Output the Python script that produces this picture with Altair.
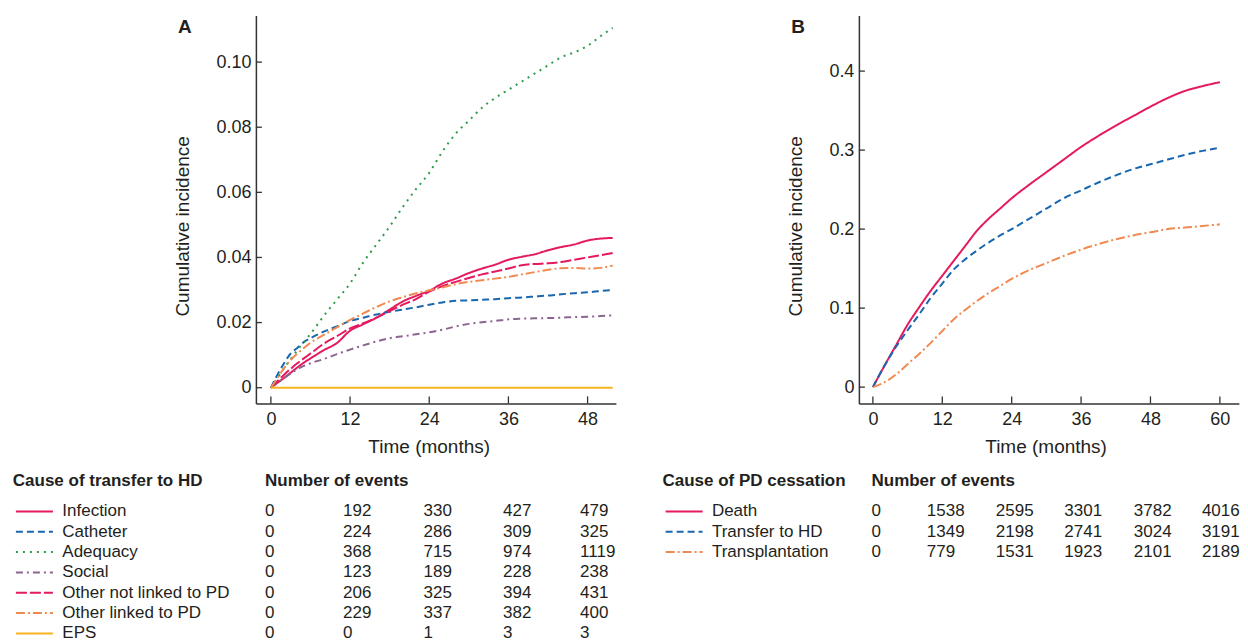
import altair as alt
import pandas as pd

FONT = "Liberation Sans"
TEXT = "#231f20"
AXIS = "#333333"

# ---------------- Panel A: cause of transfer to HD ----------------
A_SERIES = ["Infection", "Catheter", "Adequacy", "Social",
            "Other not linked to PD", "Other linked to PD", "EPS"]
A_COLORS = ["#E5195E", "#1867B0", "#2E9B4A", "#8C6490", "#E5195E", "#F08A50", "#F6B31F"]
A_DASHES = [[1, 0], [7, 4], [2, 5], [7, 4, 2, 4], [11, 3], [9, 3, 2, 3], [1, 0]]

A_MONTHS = [0, 1, 2, 3, 4, 5, 6, 8, 10, 12, 14, 16, 18, 20, 22, 24, 26, 28, 30,
            32, 34, 36, 38, 40, 42, 44, 46, 48, 50, 51.8]
A_INFECTION = [0, 0.0015, 0.003, 0.0046, 0.0062, 0.0077, 0.009, 0.0115, 0.0137, 0.0175,
               0.0195, 0.0215, 0.024, 0.0265, 0.0282, 0.0298, 0.032, 0.0335, 0.0352,
               0.0366, 0.0378, 0.0393, 0.0402, 0.041, 0.0422, 0.0432, 0.044, 0.0452, 0.0458, 0.046]
A_CATHETER = [0, 0.004, 0.0075, 0.0105, 0.0122, 0.014, 0.0152, 0.0172, 0.0188, 0.0205,
              0.0215, 0.0225, 0.0233, 0.024, 0.0247, 0.0255, 0.0262, 0.0267, 0.0268,
              0.027, 0.0272, 0.0275, 0.0277, 0.028, 0.0283, 0.0287, 0.029, 0.0293, 0.0297, 0.030]
A_ADEQUACY = [0, 0.003, 0.006, 0.0088, 0.0115, 0.014, 0.0165, 0.022, 0.027, 0.032,
              0.0385, 0.044, 0.0495, 0.0555, 0.061, 0.066, 0.0725, 0.078, 0.082,
              0.086, 0.089, 0.0915, 0.094, 0.0965, 0.099, 0.1015, 0.103, 0.105, 0.108, 0.1105]
A_SOCIAL = [0, 0.0015, 0.003, 0.0044, 0.0057, 0.0067, 0.0075, 0.0088, 0.0103, 0.0117,
            0.013, 0.0142, 0.0152, 0.0158, 0.0164, 0.017, 0.0178, 0.0188, 0.0196,
            0.0201, 0.0205, 0.021, 0.0212, 0.0213, 0.0214, 0.0215, 0.0217, 0.0218, 0.022, 0.0222]
A_OTHER_NOT = [0, 0.002, 0.004, 0.0058, 0.0075, 0.009, 0.0105, 0.0135, 0.0158, 0.0182,
               0.0198, 0.0215, 0.0235, 0.0255, 0.0272, 0.0295, 0.0312, 0.0325, 0.0337,
               0.0348, 0.0357, 0.0366, 0.0376, 0.038, 0.0382, 0.0386, 0.0393, 0.04, 0.0407, 0.0414]
A_OTHER_LINKED = [0, 0.003, 0.006, 0.0085, 0.0105, 0.0122, 0.0138, 0.0162, 0.0185, 0.0208,
                  0.0228, 0.0248, 0.0265, 0.0278, 0.029, 0.0299, 0.0308, 0.0318, 0.0325,
                  0.033, 0.0335, 0.034, 0.0348, 0.0355, 0.0362, 0.0367, 0.0368, 0.0366, 0.0368, 0.0375]
A_EPS = [0, 0, 0, 0, 0, 0, 0, 0, 0, 0,
         0, 0, 0, 0, 0, 0, 0, 0, 0,
         0, 0, 0, 0, 0, 0, 0, 0, 0, 0, 0]

A_N_INFECTION = [0, 192, 330, 427, 479]
A_N_CATHETER = [0, 224, 286, 309, 325]
A_N_ADEQUACY = [0, 368, 715, 974, 1119]
A_N_SOCIAL = [0, 123, 189, 228, 238]
A_N_OTHER_NOT = [0, 206, 325, 394, 431]
A_N_OTHER_LINKED = [0, 229, 337, 382, 400]
A_N_EPS = [0, 0, 1, 3, 3]

A_XTICKS = [0, 12, 24, 36, 48]
A_YTICKS = [0, 0.02, 0.04, 0.06, 0.08, 0.10]

# ---------------- Panel B: cause of PD cessation ----------------
B_SERIES = ["Death", "Transfer to HD", "Transplantation"]
B_COLORS = ["#E5195E", "#1867B0", "#F08A50"]
B_DASHES = [[1, 0], [7, 4], [9, 3, 2, 3]]

B_MONTHS = [0, 2, 4, 6, 8, 10, 12, 14, 16, 18, 20, 22, 24, 27, 30, 33, 36, 39, 42, 45,
            48, 51, 54, 57, 60]
B_DEATH = [0, 0.027, 0.053, 0.079, 0.101, 0.122, 0.141, 0.160, 0.179, 0.198, 0.213, 0.226,
           0.239, 0.256, 0.272, 0.288, 0.304, 0.318, 0.331, 0.343, 0.355, 0.366, 0.375, 0.381, 0.386]
B_TRANSFER = [0, 0.027, 0.051, 0.072, 0.092, 0.113, 0.131, 0.149, 0.162, 0.173, 0.183, 0.192,
              0.200, 0.213, 0.226, 0.239, 0.249, 0.259, 0.268, 0.276, 0.282, 0.288, 0.294, 0.299, 0.303]
B_TRANSPLANT = [0, 0.006, 0.016, 0.029, 0.042, 0.056, 0.071, 0.086, 0.098, 0.109, 0.119, 0.128,
                0.137, 0.148, 0.157, 0.166, 0.174, 0.181, 0.187, 0.192, 0.196, 0.200, 0.202, 0.204, 0.206]

B_N_DEATH = [0, 1538, 2595, 3301, 3782, 4016]
B_N_TRANSFER = [0, 1349, 2198, 2741, 3024, 3191]
B_N_TRANSPLANT = [0, 779, 1531, 1923, 2101, 2189]

B_XTICKS = [0, 12, 24, 36, 48, 60]
B_YTICKS = [0, 0.1, 0.2, 0.3, 0.4]


def long_df(months, series, values):
    rows = []
    for s, vals in zip(series, values):
        for m, v in zip(months, vals):
            rows.append({"month": m, "value": v, "series": s})
    return pd.DataFrame(rows)


def panel(df, series, colors, dashes, counts, header, letter, W, H,
          xdom, ydom, xticks, yticks, yfmt, xtitle_x, ytitle_x, letter_x, slot_px):
    def xs():
        return alt.Scale(domain=xdom, nice=False, zero=False)

    def ys():
        return alt.Scale(domain=ydom, nice=False, zero=False)

    def tx():
        return alt.Scale(type="linear", domain=list(range(len(slot_px))), range=slot_px,
                         nice=False, zero=False)

    def ty():
        return alt.Scale(type="linear", domain=[0, 1, 7], range=[466, 496, 618],
                         nice=False, zero=False)

    col = alt.Scale(domain=series, range=colors)
    dash = alt.Scale(domain=series, range=dashes)

    x_axis = alt.Axis(values=xticks, title="Time (months)", ticks=False, tickSize=0,
                      labelPadding=7, labelFontSize=18, titleFontSize=19, labelFlush=False,
                      titleX=xtitle_x, titleY=34, titleBaseline="top", titleAlign="center",
                      grid=False, domainColor=AXIS, domainWidth=1.5, labelColor=TEXT,
                      titleColor=TEXT, titleFontWeight="normal", labelFont=FONT, titleFont=FONT)
    y_axis = alt.Axis(values=yticks, labelExpr=yfmt, title="Cumulative incidence",
                      ticks=False, tickSize=0, labelPadding=5, labelFontSize=18,
                      titleFontSize=19, titleX=ytitle_x, titleY=210.5, titleAngle=270,
                      titleBaseline="middle", titleAlign="center", grid=False,
                      domainColor=AXIS, domainWidth=1.5, labelColor=TEXT, titleColor=TEXT,
                      titleFontWeight="normal", labelFont=FONT, titleFont=FONT)

    lines = alt.Chart(df).mark_line(strokeWidth=2, interpolate="monotone").encode(
        x=alt.X("month:Q", scale=xs(), axis=x_axis),
        y=alt.Y("value:Q", scale=ys(), axis=y_axis),
        color=alt.Color("series:N", scale=col, legend=None),
        strokeDash=alt.StrokeDash("series:N", scale=dash, legend=None),
    )
    xt = alt.Chart(pd.DataFrame({"t": xticks})).mark_rule(color=AXIS, strokeWidth=1.3).encode(
        x=alt.X("t:Q", scale=xs(), axis=None), y=alt.value(H), y2=alt.value(H - 7))
    yt = alt.Chart(pd.DataFrame({"t": yticks})).mark_rule(color=AXIS, strokeWidth=1.3).encode(
        y=alt.Y("t:Q", scale=ys(), axis=None), x=alt.value(0), x2=alt.value(6))
    lab = alt.Chart(pd.DataFrame({"t": [letter]})).mark_text(
        align="left", baseline="top", font=FONT, fontSize=19, fontWeight="bold", color=TEXT
    ).encode(text="t:N", x=alt.value(letter_x), y=alt.value(2.6))

    # ---- table below the panel ----
    head = pd.DataFrame([{"slot": 0, "row": 0, "txt": header},
                         {"slot": 4, "row": 0, "txt": "Number of events"}])
    body_rows = []
    for i, s in enumerate(series):
        body_rows.append({"slot": 3, "row": i + 1, "txt": s})
        for j, c in enumerate(counts[i]):
            body_rows.append({"slot": 4 + j, "row": i + 1, "txt": str(c)})
    body = pd.DataFrame(body_rows)
    keys = pd.DataFrame([{"series": s, "row": i + 1, "a": 1, "b": 2} for i, s in enumerate(series)])

    t_head = alt.Chart(head).mark_text(align="left", baseline="middle", font=FONT, fontSize=17,
                                       fontWeight="bold", color=TEXT).encode(
        x=alt.X("slot:Q", scale=tx(), axis=None), y=alt.Y("row:Q", scale=ty(), axis=None),
        text="txt:N")
    t_body = alt.Chart(body).mark_text(align="left", baseline="middle", font=FONT, fontSize=17,
                                       color=TEXT).encode(
        x=alt.X("slot:Q", scale=tx(), axis=None), y=alt.Y("row:Q", scale=ty(), axis=None),
        text="txt:N")
    t_keys = alt.Chart(keys).mark_rule(strokeWidth=2).encode(
        x=alt.X("a:Q", scale=tx(), axis=None), x2="b:Q",
        y=alt.Y("row:Q", scale=ty(), axis=None),
        color=alt.Color("series:N", scale=col, legend=None),
        strokeDash=alt.StrokeDash("series:N", scale=dash, legend=None))

    return alt.layer(lines, xt, yt, lab, t_keys, t_head, t_body).resolve_scale(
        x="independent", y="independent").properties(width=W, height=H)


dfA = long_df(A_MONTHS, A_SERIES, [A_INFECTION, A_CATHETER, A_ADEQUACY, A_SOCIAL,
                                   A_OTHER_NOT, A_OTHER_LINKED, A_EPS])
dfB = long_df(B_MONTHS, B_SERIES, [B_DEATH, B_TRANSFER, B_TRANSPLANT])

chartA = panel(dfA, A_SERIES, A_COLORS, A_DASHES,
               [A_N_INFECTION, A_N_CATHETER, A_N_ADEQUACY, A_N_SOCIAL, A_N_OTHER_NOT,
                A_N_OTHER_LINKED, A_N_EPS],
               "Cause of transfer to HD", "A", 360, 388,
               [-2.27, 52.29], [-0.00482, 0.11434], A_XTICKS, A_YTICKS,
               "datum.value == 0 ? '0' : format(datum.value, '.2f')",
               172.8, -73, -78,
               [-243.1, -240.0, -203.0, -193.6, 9.2, 87.2, 167.6, 247.2, 324.2])

chartB = panel(dfB, B_SERIES, B_COLORS, B_DASHES,
               [B_N_DEATH, B_N_TRANSFER, B_N_TRANSPLANT],
               "Cause of PD cessation", "B", 380, 388,
               [-2.42, 63.29], [-0.0206, 0.4705], B_XTICKS, B_YTICKS,
               "datum.value == 0 ? '0' : format(datum.value, '.1f')",
               186.7, -63, -67.6,
               [-196.4, -193.3, -156.3, -147.0, 12.6, 67.9, 136.9, 205.4, 274.9, 343.0])

chart = alt.hconcat(chartA, chartB, spacing=45).resolve_scale(
    color="independent", strokeDash="independent"
).properties(
    padding={"left": 3.9, "top": 7.4, "right": 0, "bottom": 0}
).configure(background="white", font=FONT, view=alt.ViewConfig(stroke=None))

chart.save("out.html", embed_options={"renderer": "svg", "actions": False})
